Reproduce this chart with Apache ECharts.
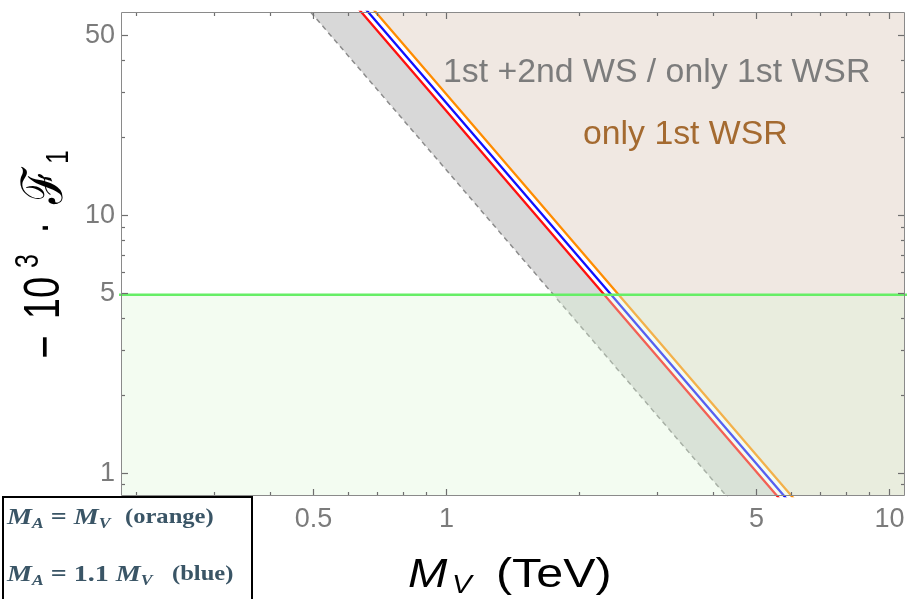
<!DOCTYPE html>
<html>
<head>
<meta charset="utf-8">
<script src="https://cdn.jsdelivr.net/npm/echarts@6/dist/echarts.min.js"></script>
<style>
  html, body { margin: 0; padding: 0; background: #fff; }
  #chart { width: 908px; height: 599px; }
</style>
</head>
<body>
<div id="chart"></div>
<script>
// M_V (TeV) at which each boundary line is sampled
const mvSamples = [0.4, 1, 8];
// -10^3 F1 along each boundary (straight lines on log-log axes)
const f1Dashed = [93.8, 15.0, 0.234];
const f1Red    = [158.8, 25.4, 0.397];
const f1Blue   = [170.6, 27.3, 0.427];
const f1Orange = [184.4, 29.5, 0.461];
// horizontal limit (green)
const f1Bound = 4.9;

// axis ranges
const xRange = [0.1847, 10.87];
const yRange = [0.812, 61.3];

// ticks and their labels
const xMajorTicks = [0.5, 1, 5, 10];
const xTickLabels = ['0.5', '1', '5', '10'];
const xMinorTicks = [0.2, 0.3, 0.4, 0.6, 0.7, 0.8, 0.9, 2, 3, 4, 6, 7, 8, 9];
const yMajorTicks = [1, 5, 10, 50];
const yTickLabels = ['1', '5', '10', '50'];
const yMinorTicks = [0.9, 2, 3, 4, 6, 7, 8, 9, 20, 30, 40];

const SANS = "'Liberation Sans', Arial, sans-serif";
const SERIF = "'Liberation Serif', 'DejaVu Serif', serif";
const tickColor = '#6e6e6e';
const labelColor = '#7b7b7b';

const toPts = ys => mvSamples.map((x, i) => [x, ys[i]]);
const dashedPts = toPts(f1Dashed);
const redPts = toPts(f1Red);
const bluePts = toPts(f1Blue);
const orangePts = toPts(f1Orange);

// points far outside the visible window, used to close filled regions
const FAR_X = [xRange[0] / 4, xRange[1] * 4];
const FAR_Y = [yRange[0] / 4, yRange[1] * 4];

function clipRect(c) {
  return { type: 'rect', shape: { x: c.x, y: c.y, width: c.width, height: c.height } };
}

function regionSeries(name, buildPts, fill, z) {
  return {
    type: 'custom', name, z, silent: true, clip: true,
    data: [[1, 1]],
    renderItem(params, api) {
      const pts = buildPts().map(p => api.coord(p));
      return {
        type: 'group', clipPath: clipRect(params.coordSys),
        children: [{ type: 'polygon', shape: { points: pts }, style: { fill } }]
      };
    }
  };
}

function lineSeries(name, pts, color, extra) {
  return Object.assign({
    type: 'line', name, data: pts, showSymbol: false, symbol: 'none', silent: true,
    clip: true, z: 3,
    lineStyle: { color, width: 2.3 }
  }, extra || {});
}

function xTickSeries(values, major) {
  return {
    type: 'custom', z: 8, silent: true,
    data: values.map(v => [v, 1]),
    renderItem(params, api) {
      const c = params.coordSys;
      const px = Math.round(api.coord([api.value(0), 1])[0]) + 0.5;
      const len = major ? 7 : 4;
      const st = { stroke: tickColor, lineWidth: 1.2 };
      const children = [
        { type: 'line', shape: { x1: px, y1: c.y + c.height, x2: px, y2: c.y + c.height - len }, style: st },
        { type: 'line', shape: { x1: px, y1: c.y, x2: px, y2: c.y + len }, style: st }
      ];
      if (major) {
        children.push({
          type: 'text', x: px, y: c.y + c.height + 24,
          style: { text: xTickLabels[params.dataIndex], fill: labelColor, font: '27px ' + SANS,
                   align: 'center', verticalAlign: 'middle' }
        });
      }
      return { type: 'group', children };
    }
  };
}

function yTickSeries(values, major) {
  return {
    type: 'custom', z: 8, silent: true,
    data: values.map(v => [1, v]),
    renderItem(params, api) {
      const c = params.coordSys;
      const py = Math.round(api.coord([1, api.value(1)])[1]) + 0.5;
      const len = major ? 7 : 4;
      const st = { stroke: tickColor, lineWidth: 1.2 };
      const children = [
        { type: 'line', shape: { x1: c.x, y1: py, x2: c.x + len, y2: py }, style: st },
        { type: 'line', shape: { x1: c.x + c.width, y1: py, x2: c.x + c.width - len, y2: py }, style: st }
      ];
      if (major) {
        children.push({
          type: 'text', x: c.x - 6, y: py,
          style: { text: yTickLabels[params.dataIndex], fill: labelColor, font: '27px ' + SANS,
                   align: 'right', verticalAlign: 'middle' }
        });
      }
      return { type: 'group', children };
    }
  };
}

const frameSeries = {
  type: 'custom', z: 9, silent: true, data: [[1, 1]],
  renderItem(params) {
    const c = params.coordSys;
    return { type: 'rect', shape: { x: c.x + 0.5, y: c.y + 0.5, width: c.width - 1, height: c.height - 1 },
             style: { fill: null, stroke: '#8a8a8a', lineWidth: 1 } };
  }
};

// pieces of the vertical axis title, reading bottom to top
const yTitle = [
  { t: '\u2212', x: 48, y: 347, size: 40 },
  { t: '10', x: 45, y: 298, size: 38 },
  { t: '3', x: 29, y: 261, size: 25 },
  { t: '\u00b7', x: 45, y: 228, size: 38 },
  { t: '\u2131', x: 46, y: 186, size: 44 },
  { t: '1', x: 59, y: 157, size: 24 }
].map(p => ({
  type: 'text', x: p.x, y: p.y, rotation: Math.PI / 2, scaleY: 1.3, z: 100, silent: true,
  style: { text: p.t, fill: '#000', font: p.size + 'px ' + SANS, align: 'center', verticalAlign: 'middle' }
}));

const legendRich = {
  i: { fontFamily: SERIF, fontStyle: 'italic', fontWeight: 'bold', fontSize: 24, lineHeight: 28 },
  s: { fontFamily: SERIF, fontStyle: 'italic', fontWeight: 'bold', fontSize: 15, lineHeight: 28, verticalAlign: 'bottom' },
  r: { fontFamily: SERIF, fontWeight: 'bold', fontSize: 24, lineHeight: 28 }
};
const legendColor = '#3a5566';

const option = {
  animation: false,
  backgroundColor: '#fff',
  grid: { left: 121, top: 12, width: 784, height: 484, show: false },
  xAxis: {
    type: 'log', logBase: 10, min: xRange[0], max: xRange[1],
    axisLine: { show: false }, axisTick: { show: false }, axisLabel: { show: false },
    splitLine: { show: false }, minorTick: { show: false }
  },
  yAxis: {
    type: 'log', logBase: 10, min: yRange[0], max: yRange[1],
    axisLine: { show: false }, axisTick: { show: false }, axisLabel: { show: false },
    splitLine: { show: false }, minorTick: { show: false }
  },
  series: [
    regionSeries('only 1st WSR', () => [...orangePts, [FAR_X[1], FAR_Y[0]], [FAR_X[1], FAR_Y[1]]], '#f0e8e2', 1),
    regionSeries('band', () => [...dashedPts, ...[...redPts].reverse()], '#d8d8d8', 1),
    lineSeries('dashed', dashedPts, '#8c8c8c', { lineStyle: { color: '#8c8c8c', width: 1.5, type: [5, 4] } }),
    lineSeries('red', redPts, '#ff1010'),
    lineSeries('blue', bluePts, '#1010ff'),
    lineSeries('orange', orangePts, '#ff8c00'),
    regionSeries('limit', () => [[FAR_X[0], FAR_Y[0]], [FAR_X[1], FAR_Y[0]], [FAR_X[1], f1Bound], [FAR_X[0], f1Bound]],
                 'rgba(220,247,215,0.35)', 5),
    lineSeries('limit line', [[FAR_X[0], f1Bound], [FAR_X[1], f1Bound]], '#66ee66', { z: 6, lineStyle: { color: '#66ee66', width: 2.5 } }),
    xTickSeries(xMajorTicks, true),
    xTickSeries(xMinorTicks, false),
    yTickSeries(yMajorTicks, true),
    yTickSeries(yMinorTicks, false),
    frameSeries
  ],
  graphic: [
    { type: 'text', x: 443, y: 73, z: 100, silent: true,
      style: { text: '1st +2nd WS / only 1st WSR', fill: '#7c7c7c', font: '33.8px ' + SANS, align: 'left', verticalAlign: 'middle' } },
    { type: 'text', x: 583, y: 135, z: 100, silent: true,
      style: { text: 'only 1st WSR', fill: '#a46a30', font: '33.8px ' + SANS, align: 'left', verticalAlign: 'middle' } },
    // horizontal axis title
    { type: 'text', x: 408, y: 576, scaleX: 1.18, z: 100, silent: true,
      style: { text: 'M', fill: '#000', font: 'italic 40px ' + SANS, align: 'left', verticalAlign: 'middle' } },
    { type: 'text', x: 452, y: 586, scaleX: 1.18, z: 100, silent: true,
      style: { text: 'V', fill: '#000', font: 'italic 25px ' + SANS, align: 'left', verticalAlign: 'middle' } },
    { type: 'text', x: 496, y: 576, scaleX: 1.18, z: 100, silent: true,
      style: { text: '(TeV)', fill: '#000', font: '41px ' + SANS, align: 'left', verticalAlign: 'middle' } },
    ...yTitle,
    // legend box
    { type: 'rect', z: 100, silent: true, shape: { x: 3, y: 497, width: 249, height: 110 },
      style: { fill: '#fff', stroke: '#000', lineWidth: 2 } },
    { type: 'text', x: 7, y: 518, scaleX: 1.17, z: 101, silent: true,
      style: { text: '{i|M}{s|A}{r| = }{i|M}{s|V}', rich: legendRich, fill: legendColor, align: 'left', verticalAlign: 'middle' } },
    { type: 'text', x: 125, y: 518, scaleX: 1.17, z: 101, silent: true,
      style: { text: '(orange)', fill: legendColor, font: 'bold 21px ' + SERIF, align: 'left', verticalAlign: 'middle' } },
    { type: 'text', x: 7, y: 575, scaleX: 1.17, z: 101, silent: true,
      style: { text: '{i|M}{s|A}{r| = 1.1 }{i|M}{s|V}', rich: legendRich, fill: legendColor, align: 'left', verticalAlign: 'middle' } },
    { type: 'text', x: 172, y: 575, scaleX: 1.17, z: 101, silent: true,
      style: { text: '(blue)', fill: legendColor, font: 'bold 21px ' + SERIF, align: 'left', verticalAlign: 'middle' } }
  ]
};

const chart = echarts.init(document.getElementById('chart'), null, { renderer: 'canvas' });
chart.setOption(option);
</script>
</body>
</html>
